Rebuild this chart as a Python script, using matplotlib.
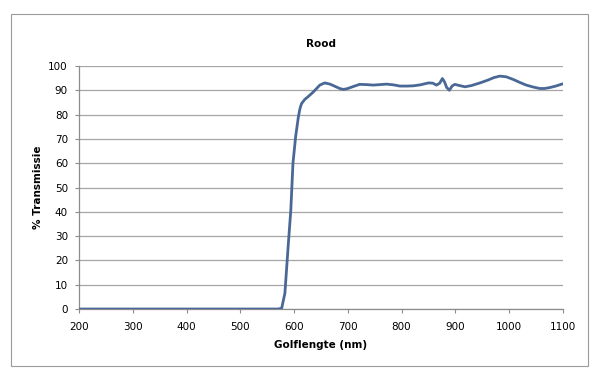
import matplotlib
matplotlib.use("Agg")
import matplotlib.pyplot as plt
from matplotlib.patches import Rectangle

# transmission curve of the red filter
wavelength = [200, 300, 400, 500, 570, 577, 583, 589, 594, 598, 603, 608, 611,
              614, 620, 626, 636, 648, 657, 667, 685, 692, 700, 710, 722, 735,
              747, 760, 772, 785, 797, 810, 822, 835, 850, 858, 865, 871, 876,
              880, 884, 889, 894, 899, 908, 918, 930, 946, 960, 972, 983, 995,
              1008, 1020, 1032, 1045, 1057, 1066, 1076, 1087, 1098, 1100]
transmission = [0, 0, 0, 0, 0, 0.3, 6.5, 25.6, 40.7, 60, 71, 79, 82.5,
                84.6, 86.3, 87.4, 89.4, 92.2, 93.1, 92.6, 90.8, 90.4, 90.8, 91.6, 92.5, 92.4,
                92.2, 92.4, 92.6, 92.3, 91.8, 91.8, 91.9, 92.3, 93.1, 93.0, 92.2, 93.0, 94.9,
                93.5, 91.2, 90.1, 91.8, 92.5, 92.0, 91.5, 92.0, 93.1, 94.2, 95.3, 95.9, 95.6,
                94.5, 93.3, 92.2, 91.4, 90.8, 90.8, 91.2, 91.8, 92.6, 92.7]

x_ticks = list(range(200, 1101, 100))
y_ticks = list(range(0, 101, 10))

fig = plt.figure(figsize=(6, 3.78), dpi=100)
ax = fig.add_axes([0.1317, 0.1825, 0.8063, 0.6425])

# outer chart border
fig.patches.append(Rectangle((11 / 600, 1 - 366 / 378), 577 / 600, 352 / 378,
                             transform=fig.transFigure, fill=False,
                             edgecolor="#9a9a9a", linewidth=0.8))

ax.plot(wavelength, transmission, color="#4a6896", linewidth=2.0,
        solid_joinstyle="round", zorder=3)

ax.set_xlim(200, 1100)
ax.set_ylim(0, 100)
ax.set_xticks(x_ticks)
ax.set_yticks(y_ticks)
ax.tick_params(labelsize=7.5, length=3, color="#8c8c8c", width=0.8)
ax.tick_params(axis="x", pad=6)
ax.tick_params(axis="y", pad=5)
ax.grid(axis="y", color="#a6a6a6", linewidth=0.9)
ax.set_axisbelow(True)
for side in ("top", "right"):
    ax.spines[side].set_visible(False)
for side in ("left", "bottom"):
    ax.spines[side].set_color("#8c8c8c")
    ax.spines[side].set_linewidth(0.9)

ax.set_title("Rood", fontsize=7.5, fontweight="bold", pad=14)
ax.set_xlabel("Golflengte (nm)", fontsize=7.5, fontweight="bold", labelpad=6)
ax.set_ylabel("% Transmissie", fontsize=7.5, fontweight="bold", labelpad=4)

fig.savefig("out.png", dpi=100)
